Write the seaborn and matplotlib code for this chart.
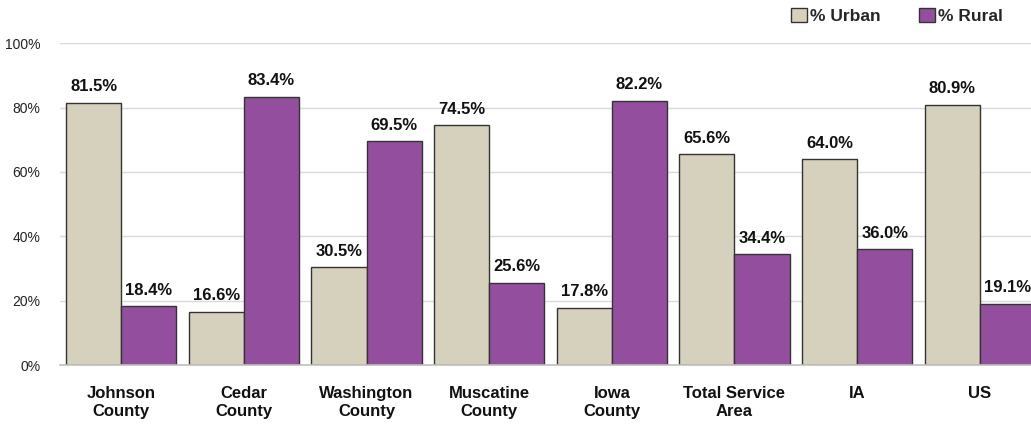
import pandas as pd
import seaborn as sns
import matplotlib.pyplot as plt
from matplotlib.patches import Patch

# data
areas = ['Johnson\nCounty', 'Cedar\nCounty', 'Washington\nCounty', 'Muscatine\nCounty',
         'Iowa\nCounty', 'Total Service\nArea', 'IA', 'US']
urban = [81.5, 16.6, 30.5, 74.5, 17.8, 65.6, 64.0, 80.9]
rural = [18.4, 83.4, 69.5, 25.6, 82.2, 34.4, 36.0, 19.1]
series = ['% Urban', '% Rural']
colors = ['#D6D1BD', '#934F9E']

df = pd.DataFrame({
    'area': areas * 2,
    'pct': urban + rural,
    'type': [series[0]] * len(areas) + [series[1]] * len(areas),
})

sns.set_theme(style='white')
plt.rcParams['font.family'] = ['Liberation Sans', 'DejaVu Sans']

fig = plt.figure(figsize=(10.31, 4.24), dpi=100)
ax = fig.add_axes([0.0582, 0.139, 0.9515, 0.759])

sns.barplot(data=df, x='area', y='pct', hue='type', palette=colors, hue_order=series,
            saturation=1, width=0.9, gap=0, edgecolor='#333333', linewidth=1.0,
            legend=False, ax=ax)

for c in ax.containers:
    ax.bar_label(c, fmt='{:.1f}%', padding=6, fontsize=12, fontweight='bold', color='#111111')

ax.set_ylim(0, 100)
ax.set_xlim(-0.5, 7.5)
ax.set_yticks([0, 20, 40, 60, 80, 100])
ax.set_yticklabels([f'{v}%' for v in [0, 20, 40, 60, 80, 100]], fontsize=10, color='#222222')
ax.tick_params(axis='y', length=0, pad=14)
ax.tick_params(axis='x', length=0, pad=15)
for lbl in ax.get_xticklabels():
    lbl.set_fontweight('bold')
    lbl.set_fontsize(12)
    lbl.set_color('#111111')
    lbl.set_linespacing(1.25)
ax.set_xlabel('')
ax.set_ylabel('')
ax.set_axisbelow(True)
ax.yaxis.grid(True, color='#D9D9D9', linewidth=1)
for s in ['left', 'right', 'top']:
    ax.spines[s].set_visible(False)
ax.spines['bottom'].set_color('#BFBFBF')
ax.spines['bottom'].set_linewidth(1.2)

handles = [Patch(facecolor=colors[i], edgecolor='#333333', linewidth=1.0, label=series[i])
           for i in range(2)]
fig.legend(handles=handles, loc='center right', bbox_to_anchor=(0.988, 0.962), ncol=2,
           frameon=False, handlelength=0.9, handleheight=0.9, handletextpad=0.2,
           columnspacing=2.2, prop={'weight': 'bold', 'size': 12.5})

fig.savefig('out.png', dpi=100)
